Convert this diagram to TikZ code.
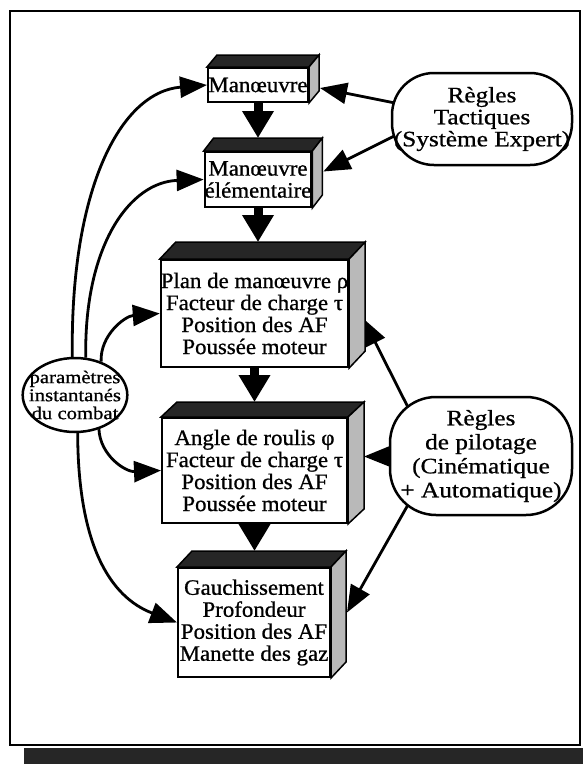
\documentclass[tikz,border=0pt]{standalone}
\usepackage{fontspec}
\setmainfont{Liberation Serif}
\newfontfamily\boxfont[FakeBold=0.8,FakeStretch=1.04]{Liberation Serif}
\newfontfamily\widefont[FakeBold=0.8,FakeStretch=1.15]{Liberation Serif}
\usetikzlibrary{arrows.meta,shapes.geometric,calc,backgrounds}

\tikzset{
  front/.style={draw, line width=2pt, fill=white, inner sep=0pt, align=center,
    font=\boxfont\fontsize{22}{22}\selectfont},
  topface/.style={draw, line width=1.5pt, fill=black!85},
  sideface/.style={draw, line width=1.5pt, fill=gray!55},
  rules/.style={draw, line width=2.5pt, fill=white, rounded corners=42pt, inner sep=0pt,
    align=center, font=\widefont\fontsize{22}{22}\selectfont},
  flow/.style={line width=9pt, -{Triangle[length=27pt,width=30pt]}},
  link/.style={line width=2.8pt, -{Triangle[length=27pt,width=21pt]}},
}

\newcommand{\solidfaces}[3]{%
  \draw[topface] (#1.north west) -- ++(#2,-#3) -- ($(#1.north east)+(#2,-#3)$) -- (#1.north east) -- cycle;
  \draw[sideface] (#1.north east) -- ++(#2,-#3) -- ($(#1.south east)+(#2,-#3)$) -- (#1.south east) -- cycle;
}

\begin{document}
\begin{tikzpicture}[x=1pt,y=-1pt]
\useasboundingbox (0,0) rectangle (583,764);

% boxes
\node[front, minimum width=100pt, minimum height=34pt] (m1) at (258,85) {Manœuvre};
\node[front, minimum width=100pt, minimum height=55pt] (m2) at (258,179.5) {Manœuvre\\élémentaire};
\node[front, minimum width=185pt, minimum height=107pt] (p) at (254.5,313.5)
  {Plan de manœuvre ρ\\Facteur de charge τ\\Position des AF\\Poussée moteur};
\node[front, minimum width=185pt, minimum height=105pt] (a) at (254.5,470.5)
  {Angle de roulis φ\\Facteur de charge τ\\Position des AF\\Poussée moteur};
\node[front, minimum width=152pt, minimum height=109pt] (g) at (254,622.5)
  {Gauchissement\\Profondeur\\Position des AF\\Manette des gaz};

\solidfaces{m1}{10}{12}
\solidfaces{m2}{10}{13}
\solidfaces{p}{16}{17}
\solidfaces{a}{16}{15}
\solidfaces{g}{15}{16}

% rule boxes
\node[rules, minimum width=180pt, minimum height=92pt] (rt) at (482,119)
  {Règles\\Tactiques\\(Système Expert)};
\node[rules, rounded corners=46pt, minimum width=182pt, minimum height=118pt,
  font=\widefont\fontsize{22}{24}\selectfont] (rp) at (481,456)
  {Règles\\de pilotage\\(Cinématique\\+ Automatique)};

% parameters ellipse
\node[ellipse, draw, line width=2.5pt, fill=white, minimum width=104pt, minimum height=74pt,
  inner xsep=-9pt, inner ysep=-2pt, align=center,
  font=\widefont\fontsize{18}{18}\selectfont] (par) at (75,395)
  {paramètres\\instantanés\\du combat};

% target coordinates
\coordinate (m2top) at ($(m2.north)+(0,-13)$);
\coordinate (ptop) at ($(p.north)+(0,-17)$);
\coordinate (atop) at ($(a.north)+(0,-15)$);
\coordinate (gtop) at ($(g.north)+(0,-16)$);
\coordinate (m1r) at ($(m1.east)+(11,3)$);
\coordinate (m2r) at ($(m2.east)+(11,-8)$);
\coordinate (pr) at ($(p.east)+(14,5)$);
\coordinate (ar) at ($(a.east)+(16,-14)$);
\coordinate (gr) at ($(g.east)+(16,-10)$);

\begin{scope}[on background layer]
  % frame
  \draw[line width=2.5pt] (10,11) rectangle (580,745);
  \fill[black!85] (24,748) rectangle (583,764);
  % vertical flow
  \draw[flow] (m1.south) -- (m1.south |- m2top);
  \draw[flow] (m2.south) -- (m2.south |- ptop);
  \draw[flow] (p.south) -- (p.south |- atop);
  \draw[flow] (a.south) -- (a.south |- gtop);
  % left curves
  \draw[link] (par.94) .. controls (70,190) and (120,92) .. (m1.west);
  \draw[link] (par.74) .. controls (84,245) and (130,182) .. (m2.west);
  \draw[link] (par.52) .. controls (100,335) and (125,316) .. (p.west);
  \draw[link] (par.-55) .. controls (100,455) and (125,472) .. (a.west);
  \draw[link] (par.-86) .. controls (78,545) and (110,597) .. (g.west);
  % right links
  \draw[link] ($(rt.center)+(-52,-9)$) -- (m1r);
  \draw[link] ($(rt.center)+(-52,-1)$) -- (m2r);
  \draw[link] ($(rp.center)+(-56,-15)$) -- (pr);
  \draw[link] (rp.center) -- (ar);
  \draw[link] ($(rp.center)+(-55,17)$) -- (gr);
\end{scope}
\end{tikzpicture}
\end{document}
